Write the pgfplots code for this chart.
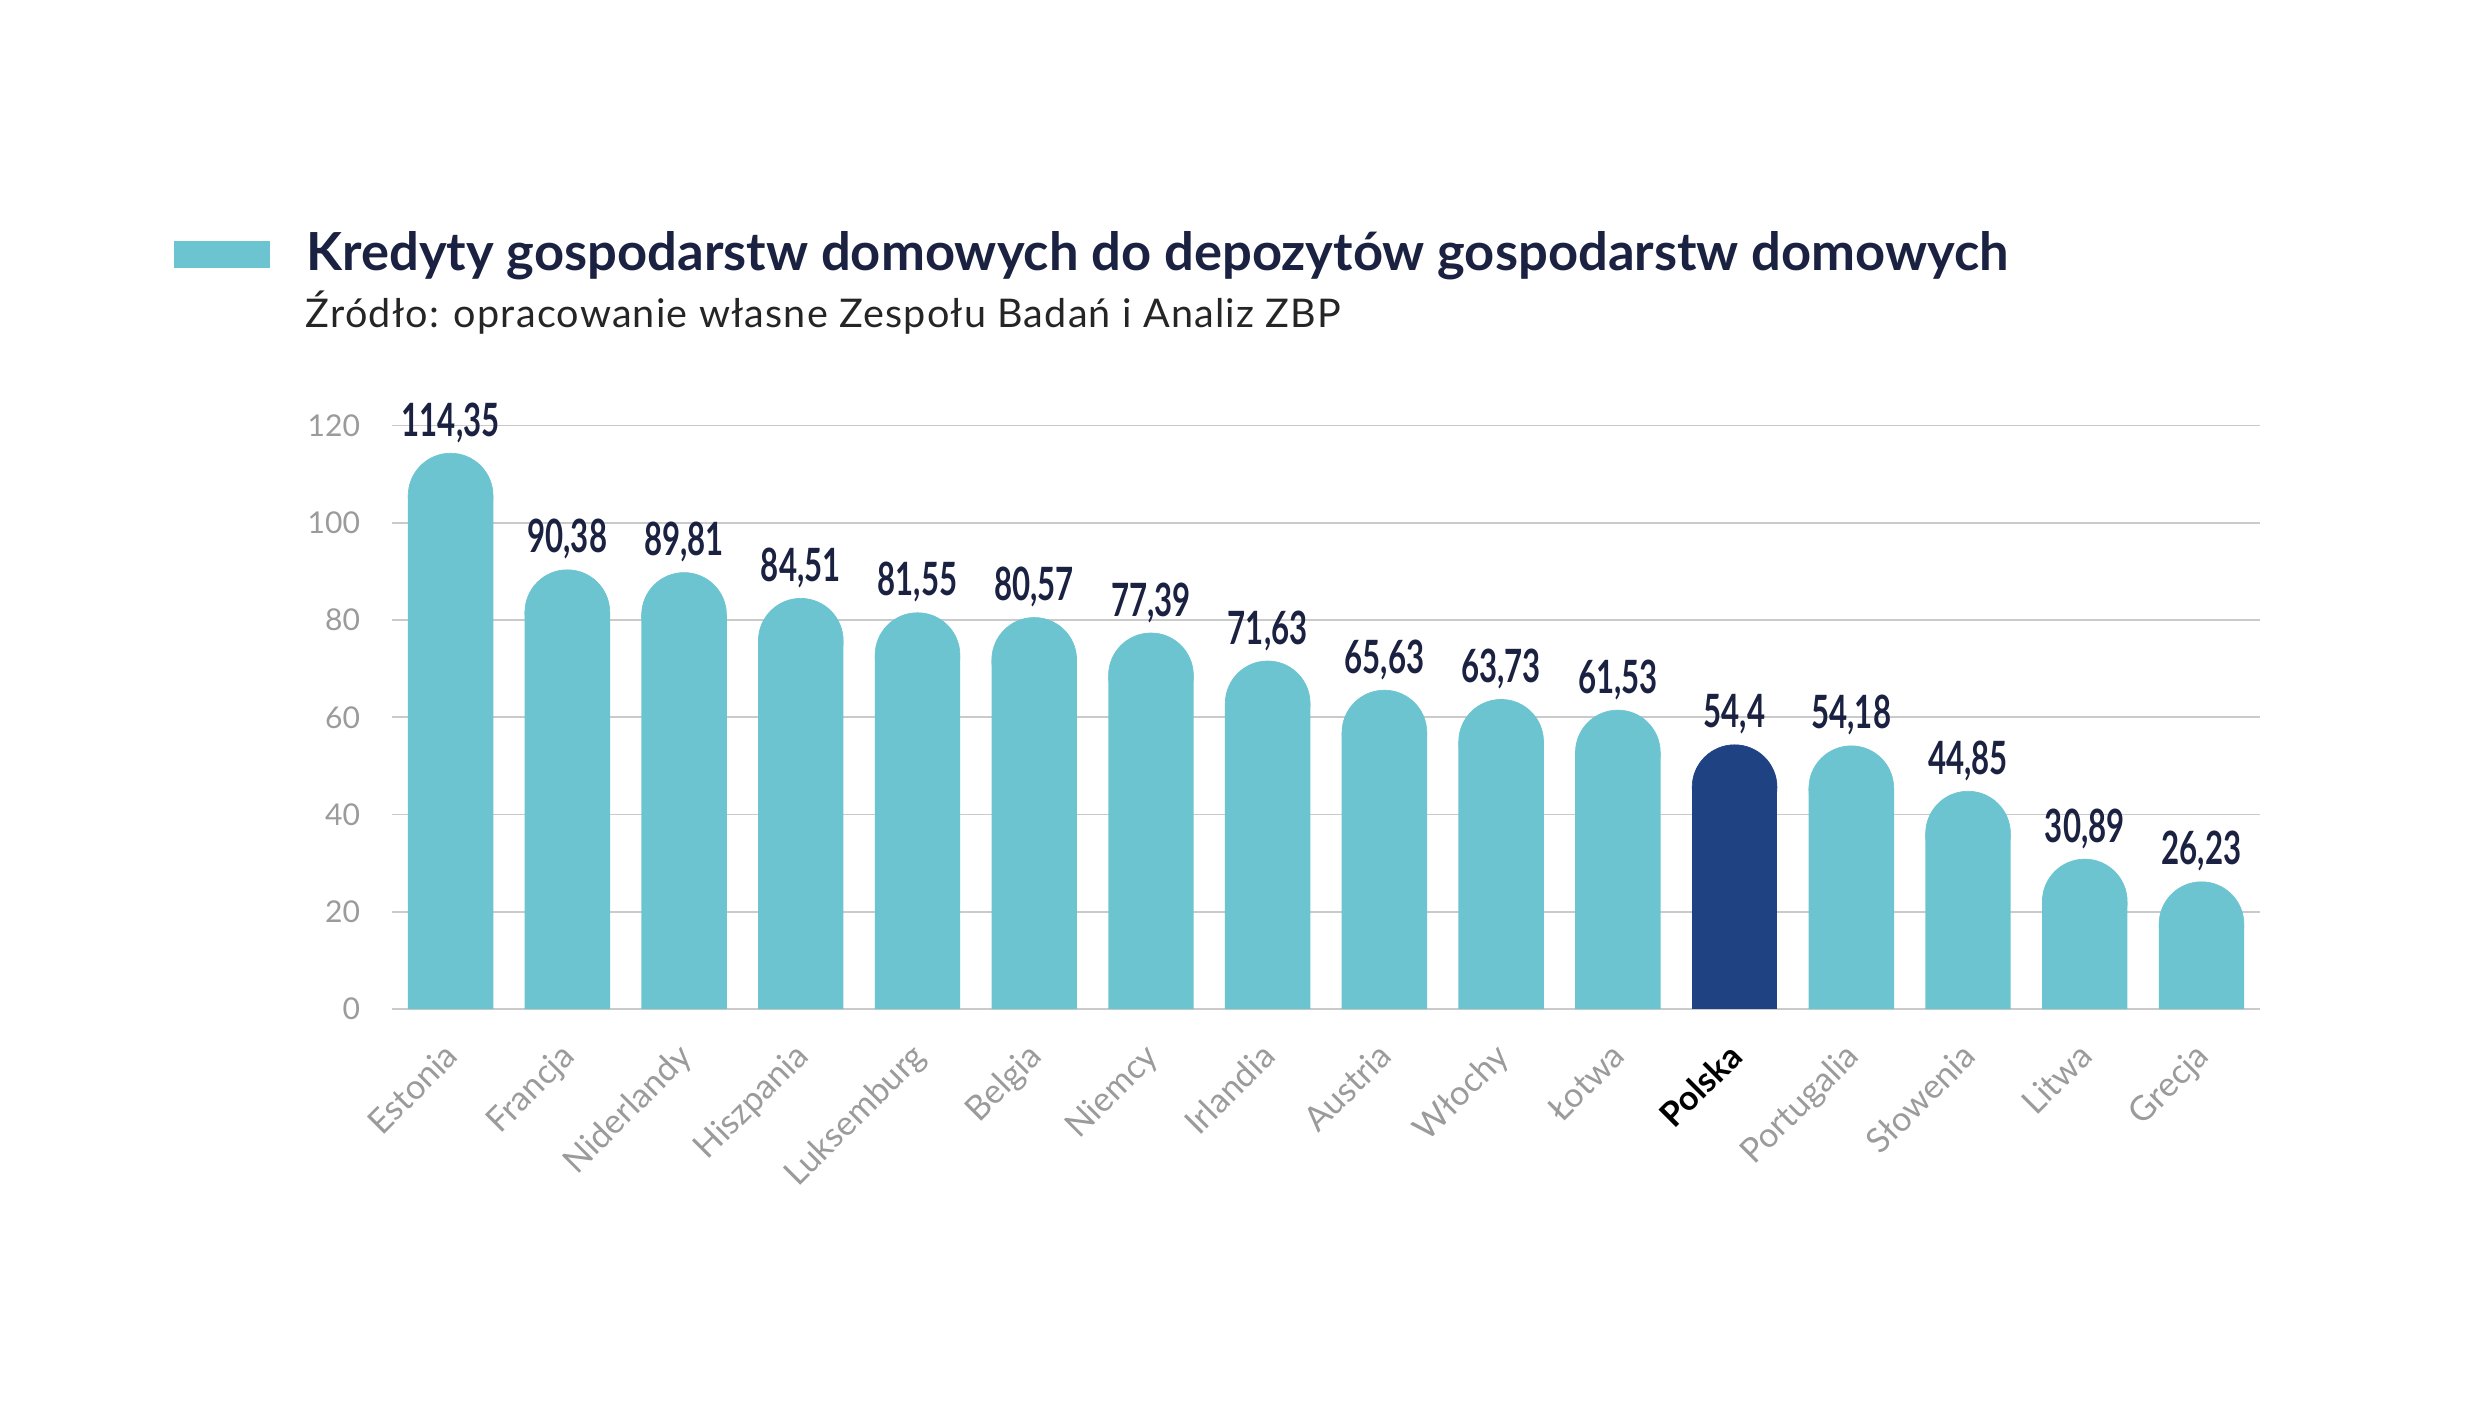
\documentclass[border=0pt]{standalone}
\usepackage{fontspec}
\setmainfont{Lato}
\usepackage{graphicx}
\usepackage{pgfplots}
\usepackage{pgfplotstable}
\pgfplotsset{compat=1.18}
\definecolor{barteal}{HTML}{6BC4D0}
\definecolor{barpl}{HTML}{1F4283}
\definecolor{navy}{HTML}{1B2141}
\definecolor{tickgray}{HTML}{9B9B9B}
\definecolor{gridgray}{HTML}{CACACA}
\definecolor{subgray}{HTML}{252525}

\pgfplotstableread{
i v lab
0 114.35 114,35
1 90.38 90,38
2 89.81 89,81
3 84.51 84,51
4 81.55 81,55
5 80.57 80,57
6 77.39 77,39
7 71.63 71,63
8 65.63 65,63
9 63.73 63,73
10 61.53 61,53
11 54.4 54,4
12 54.18 54,18
13 44.85 44,85
14 30.89 30,89
15 26.23 26,23
}\data

\begin{document}
\begin{tikzpicture}
\path[fill=white, use as bounding box] (0,0) rectangle (784pt,448.5pt);
\begin{axis}[
  at={(124pt,129.5pt)}, anchor=south west,
  scale only axis, width=590.4pt, height=184.5pt,
  xmin=-0.5, xmax=15.5, ymin=0, ymax=120,
  ytick={0,20,...,120},
  xtick={0,...,15},
  xticklabels={Estonia,Francja,Niderlandy,Hiszpania,Luksemburg,Belgia,Niemcy,Irlandia,Austria,Włochy,Łotwa,\textcolor{black}{\bfseries Polska},Portugalia,Słowenia,Litwa,Grecja},
  axis line style={draw=none},
  major tick length=0pt,
  tick style={draw=none},
  ymajorgrids, grid style={gridgray, line width=0.5pt},
  /pgf/number format/assume math mode=true,
  yticklabel style={font=\fontsize{9.5}{11}\selectfont, text=tickgray, anchor=east, inner sep=0pt, xshift=-10pt},
  xticklabel style={font=\fontsize{10.8}{12}\selectfont, text=tickgray, rotate=45, anchor=north east, inner sep=0pt, yshift=-5.1pt, xshift=-8.8pt},
  legend style={draw=none, fill=none, at={(-0.1169,1.2954)}, anchor=west, inner sep=0pt, outer sep=0pt,
    nodes={inner sep=0pt}, font=\fontsize{16.6}{19}\selectfont\bfseries, text=navy},
  legend cell align=left,
]
\addlegendimage{legend image code/.code={\fill[barteal] (0pt,-4.5pt) rectangle (30pt,3.5pt); \path (41.5pt,0pt);}}
\addlegendentry{Kredyty gospodarstw domowych do depozytów gospodarstw domowych}
% teal bars (body) and round tops (Polska skipped)
\addplot[forget plot, ybar, bar width=27pt, bar shift=0pt, draw=none, fill=barteal, skip coords between index={11}{12}]
  table[x=i, y expr=\thisrow{v}-8.78] {\data};
\addplot[forget plot, color=barteal, only marks, mark=*, mark size=13.4pt, mark options={solid, draw=barteal, fill=barteal, line width=0.2pt}, skip coords between index={11}{12}]
  table[x=i, y expr=\thisrow{v}-8.78] {\data};
% Polska highlighted
\addplot[forget plot, ybar, bar width=27pt, bar shift=0pt, draw=none, fill=barpl, restrict x to domain=11:11]
  table[x=i, y expr=\thisrow{v}-8.78] {\data};
\addplot[forget plot, color=barpl, only marks, mark=*, mark size=13.4pt, mark options={solid, draw=barpl, fill=barpl, line width=0.2pt}, restrict x to domain=11:11]
  table[x=i, y expr=\thisrow{v}-8.78] {\data};
% value labels
\addplot[forget plot, draw=none, mark=none, nodes near coords={\scalebox{0.68}[1]{\pgfplotspointmeta}},
  point meta=explicit symbolic,
  every node near coord/.append style={font=\fontsize{14.5}{16}\selectfont\bfseries, text=navy, inner sep=0pt, yshift=3pt}]
  table[x=i, y=v, meta=lab] {\data};
\end{axis}
\node[anchor=base west, inner sep=0pt, text=subgray, font=\fontsize{12.5}{14}\selectfont\addfontfeatures{LetterSpace=3}] at (96.5pt,345pt) {Źródło: opracowanie własne Zespołu Badań i Analiz ZBP};
\end{tikzpicture}
\end{document}
